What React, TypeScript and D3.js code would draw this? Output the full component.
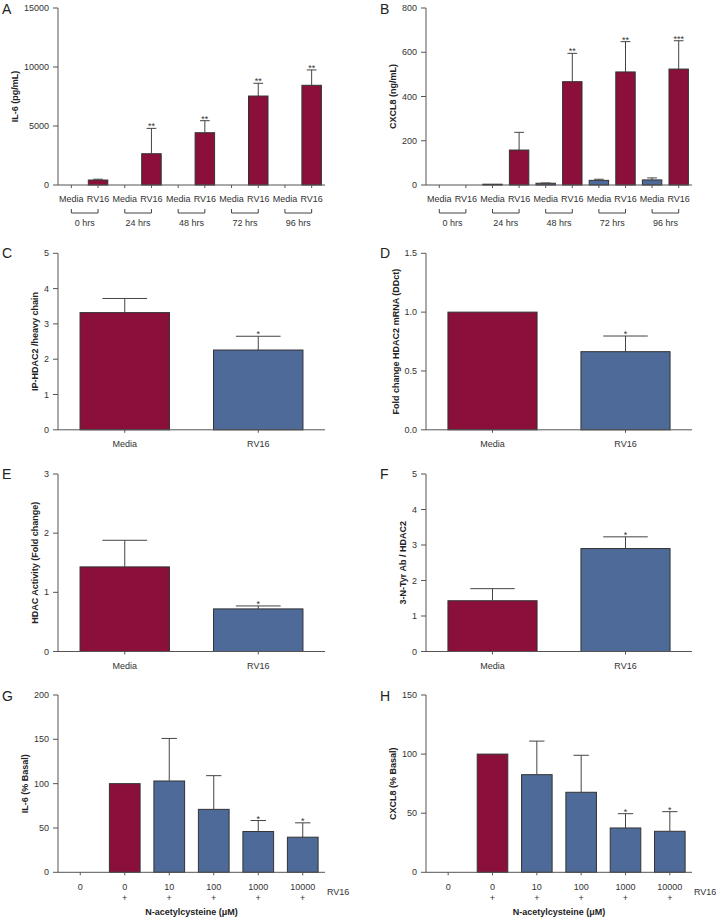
import React from "react";
import * as d3 from "d3";

// ---------- DATA ----------
const timeGroups = ["0 hrs", "24 hrs", "48 hrs", "72 hrs", "96 hrs"];
const treatments = ["Media", "RV16"];
const timeCats = timeGroups.flatMap((g) => treatments.map((t) => `${t}|${g}`));

const aMean = [0, 420, 0, 2650, 0, 4430, 0, 7540, 0, 8450];
const aSem = [0, 70, 0, 2150, 0, 1020, 0, 1080, 0, 1300];
const aStars = ["", "", "", "**", "", "**", "", "**", "", "**"];
const aTicks = [0, 5000, 10000, 15000];

const bMean = [0, 0, 2, 158, 8, 467, 21, 511, 23, 524];
const bSem = [0, 0, 0, 80, 1, 128, 5, 137, 9, 128];
const bStars = ["", "", "", "", "", "**", "", "**", "", "***"];
const bTicks = [0, 200, 400, 600, 800];

const twoCats = ["Media", "RV16"];
const cMean = [3.32, 2.26];
const cSem = [0.4, 0.39];
const cStars = ["", "*"];
const cTicks = [0, 1, 2, 3, 4, 5];

const dMean = [1.0, 0.664];
const dSem = [0, 0.133];
const dStars = ["", "*"];
const dTicks = [0, 0.5, 1.0, 1.5];

const eMean = [1.43, 0.72];
const eSem = [0.45, 0.05];
const eStars = ["", "*"];
const eTicks = [0, 1, 2, 3];

const fMean = [1.43, 2.9];
const fSem = [0.34, 0.33];
const fStars = ["", "*"];
const fTicks = [0, 1, 2, 3, 4, 5];

const nacConc = ["0", "0", "10", "100", "1000", "10000"];
const nacRV16 = ["", "+", "+", "+", "+", "+"];
const nacCats = nacConc.map((c, i) => `${c}|${i}`);

const gMean = [0, 100, 103, 71, 46, 39.6];
const gSem = [0, 0, 48, 38, 12.4, 16.2];
const gStars = ["", "", "", "", "*", "*"];
const gTicks = [0, 50, 100, 150, 200];

const hMean = [0, 100, 82.6, 67.7, 37.5, 34.7];
const hSem = [0, 0, 28.4, 31.3, 12.1, 16.6];
const hStars = ["", "", "", "", "*", "*"];
const hTicks = [0, 50, 100, 150];

// ---------- STYLE ----------
const RED = "#8a0f3a";
const BLUE = "#4e6a99";
const FONT = "'Liberation Sans', Arial, Helvetica, sans-serif";
const TXT = "#333";
const AXIS = "#555";

type PanelProps = {
  letter: string;
  left: number;
  right: number;
  top: number;
  bottom: number;
  cats: string[];
  means: number[];
  sems: number[];
  stars: string[];
  colors: string[];
  ticks: number[];
  tickFmt?: (v: number) => string;
  padding: number;
  title: string;
  titleX: number;
  letterX: number;
  letterY: number;
  children?: (x: d3.ScaleBand<string>, y: d3.ScaleLinear<number, number>) => React.ReactNode;
};

function Panel(p: PanelProps) {
  const x = d3.scaleBand<string>().domain(p.cats).range([p.left, p.right]).paddingInner(p.padding).paddingOuter(p.padding / 2);
  const y = d3.scaleLinear().domain([0, p.ticks[p.ticks.length - 1]]).range([p.bottom, p.top]);
  const fmt = p.tickFmt || ((v: number) => String(v));
  const bw = x.bandwidth();
  return (
    <g>
      <text x={p.letterX} y={p.letterY} fontSize={14} fill="#222" fontFamily={FONT}>
        {p.letter}
      </text>
      {/* bars */}
      {p.cats.map((c, i) => {
        const m = p.means[i];
        if (m <= 0) return null;
        const x0 = x(c)!;
        const yt = y(m);
        const h = Math.max(y(0) - yt, 0.8);
        return (
          <rect key={"b" + i} x={x0} y={y(0) - h} width={bw} height={h} fill={p.colors[i]} stroke="#333" strokeWidth={1} />
        );
      })}
      {/* error bars */}
      {p.cats.map((c, i) => {
        const m = p.means[i];
        const s = p.sems[i];
        if (m <= 0 || s <= 0) return null;
        const cx = x(c)! + bw / 2;
        const yt = y(m + s);
        const cw = bw * 0.5;
        return (
          <g key={"e" + i} stroke="#444" strokeWidth={1}>
            <line x1={cx} x2={cx} y1={y(m)} y2={yt} />
            <line x1={cx - cw / 2} x2={cx + cw / 2} y1={yt} y2={yt} />
          </g>
        );
      })}
      {/* stars */}
      {p.cats.map((c, i) => {
        if (!p.stars[i]) return null;
        const cx = x(c)! + bw / 2;
        const yt = y(p.means[i] + p.sems[i]);
        return (
          <text key={"s" + i} x={cx} y={yt + 1} textAnchor="middle" fontSize={9} fill={TXT} fontFamily={FONT}>
            {p.stars[i]}
          </text>
        );
      })}
      {/* y axis */}
      <line x1={p.left} x2={p.left} y1={p.top} y2={p.bottom} stroke={AXIS} strokeWidth={1} />
      {p.ticks.map((t) => (
        <g key={"t" + t}>
          <line x1={p.left - 5} x2={p.left} y1={y(t)} y2={y(t)} stroke={AXIS} strokeWidth={1} />
          <text x={p.left - 9} y={y(t)} dy="0.35em" textAnchor="end" fontSize={9} fill={TXT} fontFamily={FONT}>
            {fmt(t)}
          </text>
        </g>
      ))}
      {/* x axis */}
      <line x1={p.left} x2={p.right} y1={p.bottom} y2={p.bottom} stroke={AXIS} strokeWidth={1} />
      {p.cats.map((c, i) => (
        <line key={"xt" + i} x1={x(c)! + bw / 2} x2={x(c)! + bw / 2} y1={p.bottom} y2={p.bottom + 3} stroke={AXIS} strokeWidth={1} />
      ))}
      {/* y title */}
      <text
        transform={`translate(${p.titleX},${(p.top + p.bottom) / 2}) rotate(-90)`}
        textAnchor="middle"
        dy="0.35em"
        fontSize={9}
        fontWeight="bold"
        fill="#222"
        fontFamily={FONT}
      >
        {p.title}
      </text>
      {p.children ? p.children(x, y) : null}
    </g>
  );
}

function timeLabels(bottom: number) {
  return (x: d3.ScaleBand<string>) => {
    const bw = x.bandwidth();
    return (
      <g>
        {timeCats.map((c, i) => (
          <text key={"l" + i} x={x(c)! + bw / 2} y={bottom + 17} textAnchor="middle" fontSize={9} fill={TXT} fontFamily={FONT}>
            {c.split("|")[0]}
          </text>
        ))}
        {timeGroups.map((g) => {
          const x1 = x(`Media|${g}`)! + bw / 2;
          const x2 = x(`RV16|${g}`)! + bw / 2;
          const yb = bottom + 28;
          return (
            <g key={g}>
              <path d={`M${x1},${yb - 4}V${yb}H${x2}V${yb - 4}`} fill="none" stroke="#444" strokeWidth={1} />
              <text x={(x1 + x2) / 2} y={yb + 13} textAnchor="middle" fontSize={9} fill={TXT} fontFamily={FONT}>
                {g}
              </text>
            </g>
          );
        })}
      </g>
    );
  };
}

function twoLabels(bottom: number) {
  return (x: d3.ScaleBand<string>) => (
    <g>
      {twoCats.map((c) => (
        <text key={c} x={x(c)! + x.bandwidth() / 2} y={bottom + 17.5} textAnchor="middle" fontSize={9} fill={TXT} fontFamily={FONT}>
          {c}
        </text>
      ))}
    </g>
  );
}

function nacLabels(bottom: number, right: number) {
  return (x: d3.ScaleBand<string>) => {
    const bw = x.bandwidth();
    const [r0, r1] = x.range();
    return (
      <g>
        {nacCats.map((c, i) => (
          <g key={c}>
            <text x={x(c)! + bw / 2} y={bottom + 17.5} textAnchor="middle" fontSize={9} fill={TXT} fontFamily={FONT}>
              {nacConc[i]}
            </text>
            {nacRV16[i] ? (
              <text x={x(c)! + bw / 2} y={bottom + 29} textAnchor="middle" fontSize={9} fill={TXT} fontFamily={FONT}>
                {nacRV16[i]}
              </text>
            ) : null}
          </g>
        ))}
        <text x={right + 2} y={bottom + 22.5} fontSize={9} fill={TXT} fontFamily={FONT}>
          RV16
        </text>
        <text x={(r0 + r1) / 2} y={bottom + 43} textAnchor="middle" fontSize={9} fontWeight="bold" fill="#222" fontFamily={FONT}>
          N-acetylcysteine (μM)
        </text>
      </g>
    );
  };
}

export default function App() {
  const LL = 58,
    LR = 325,
    RL = 426,
    RR = 692;
  const rows = [
    { top: 8, bottom: 185 },
    { top: 253.3, bottom: 429.8 },
    { top: 474, bottom: 651.5 },
    { top: 695, bottom: 872.3 },
  ];
  const timeColorsA = timeCats.map(() => RED);
  const timeColorsB = timeCats.map((c) => (c.startsWith("Media") ? BLUE : RED));
  const twoColors = [RED, BLUE];
  const nacColors = nacCats.map((_, i) => (i <= 1 ? RED : BLUE));
  return (
    <div style={{ position: "absolute", left: 0, top: 0 }}>
      <svg width={717} height={917} style={{ display: "block", background: "#fff" }}>
        <Panel letter="A" letterX={2} letterY={14} left={LL} right={LR} top={rows[0].top} bottom={rows[0].bottom}
          cats={timeCats} means={aMean} sems={aSem} stars={aStars} colors={timeColorsA} ticks={aTicks}
          padding={0.27} title="IL-6 (pg/mL)" titleX={15} children={timeLabels(rows[0].bottom)} />
        <Panel letter="B" letterX={380} letterY={14} left={RL} right={RR} top={rows[0].top} bottom={rows[0].bottom}
          cats={timeCats} means={bMean} sems={bSem} stars={bStars} colors={timeColorsB} ticks={bTicks}
          padding={0.27} title="CXCL8 (ng/mL)" titleX={393} children={timeLabels(rows[0].bottom)} />
        <Panel letter="C" letterX={2} letterY={258} left={LL} right={LR} top={rows[1].top} bottom={rows[1].bottom}
          cats={twoCats} means={cMean} sems={cSem} stars={cStars} colors={twoColors} ticks={cTicks}
          padding={0.33} title="IP-HDAC2 /heavy chain" titleX={35} children={twoLabels(rows[1].bottom)} />
        <Panel letter="D" letterX={380} letterY={258} left={RL} right={RR} top={rows[1].top} bottom={rows[1].bottom}
          cats={twoCats} means={dMean} sems={dSem} stars={dStars} colors={twoColors} ticks={dTicks}
          tickFmt={(v) => v.toFixed(1)} padding={0.33} title="Fold change HDAC2 mRNA (DDct)" titleX={396}
          children={twoLabels(rows[1].bottom)} />
        <Panel letter="E" letterX={2} letterY={479} left={LL} right={LR} top={rows[2].top} bottom={rows[2].bottom}
          cats={twoCats} means={eMean} sems={eSem} stars={eStars} colors={twoColors} ticks={eTicks}
          padding={0.33} title="HDAC Activity (Fold change)" titleX={35} children={twoLabels(rows[2].bottom)} />
        <Panel letter="F" letterX={380} letterY={479} left={RL} right={RR} top={rows[2].top} bottom={rows[2].bottom}
          cats={twoCats} means={fMean} sems={fSem} stars={fStars} colors={twoColors} ticks={fTicks}
          padding={0.33} title="3-N-Tyr Ab / HDAC2" titleX={403} children={twoLabels(rows[2].bottom)} />
        <Panel letter="G" letterX={2} letterY={701} left={LL} right={LR} top={rows[3].top} bottom={rows[3].bottom}
          cats={nacCats} means={gMean} sems={gSem} stars={gStars} colors={nacColors} ticks={gTicks}
          padding={0.31} title="IL-6 (% Basal)" titleX={25} children={nacLabels(rows[3].bottom, LR)} />
        <Panel letter="H" letterX={380} letterY={701} left={RL} right={RR} top={rows[3].top} bottom={rows[3].bottom}
          cats={nacCats} means={hMean} sems={hSem} stars={hStars} colors={nacColors} ticks={hTicks}
          padding={0.31} title="CXCL8 (% Basal)" titleX={393} children={nacLabels(rows[3].bottom, RR)} />
      </svg>
    </div>
  );
}
